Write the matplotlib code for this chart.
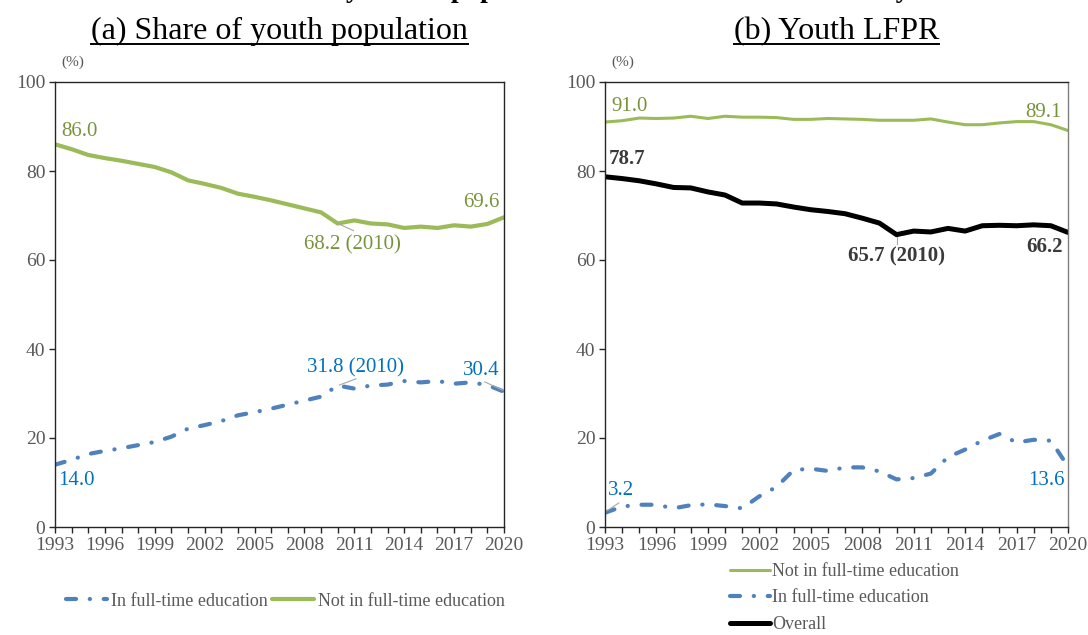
import matplotlib
matplotlib.use("Agg")
import matplotlib.pyplot as plt
from matplotlib.lines import Line2D

plt.rcParams["font.family"] = ["Liberation Serif", "DejaVu Serif"]

# ---------------- data ----------------
years = list(range(1993, 2021))
year_labels = [str(y) if (y - 1993) % 3 == 0 else "" for y in years]

share_ft = [14.0, 15.1, 16.4, 17.1, 17.7, 18.4, 19.1, 20.3, 22.1, 22.9,
            23.8, 25.1, 25.8, 26.6, 27.5, 28.4, 29.3, 31.8, 31.1, 31.8,
            32.0, 32.8, 32.5, 32.8, 32.2, 32.5, 31.9, 30.4]
share_not_ft = [86.0, 84.9, 83.6, 82.9, 82.3, 81.6, 80.9, 79.7, 77.9, 77.1,
                76.2, 74.9, 74.2, 73.4, 72.5, 71.6, 70.7, 68.2, 68.9, 68.2,
                68.0, 67.2, 67.5, 67.2, 67.8, 67.5, 68.1, 69.6]

lfpr_not_ft = [91.0, 91.3, 91.9, 91.8, 91.9, 92.3, 91.8, 92.3, 92.1, 92.1,
               92.0, 91.6, 91.6, 91.8, 91.7, 91.6, 91.4, 91.4, 91.4, 91.7,
               91.0, 90.4, 90.4, 90.8, 91.1, 91.1, 90.4, 89.1]
lfpr_ft = [3.2, 4.6, 5.0, 5.0, 4.2, 4.9, 5.1, 4.7, 4.2, 6.9,
           9.0, 12.8, 13.1, 12.6, 13.4, 13.4, 12.5, 10.7, 11.0, 12.0,
           15.7, 17.4, 19.4, 20.9, 19.0, 19.6, 19.4, 13.6]
lfpr_overall = [78.7, 78.3, 77.8, 77.1, 76.3, 76.2, 75.3, 74.6, 72.8, 72.8,
                72.6, 71.9, 71.3, 70.9, 70.4, 69.4, 68.3, 65.7, 66.5, 66.3,
                67.1, 66.5, 67.7, 67.8, 67.7, 67.9, 67.7, 66.2]

# ---------------- styles ----------------
GREEN = "#9BBB59"
GREEN_TXT = "#77933C"
BLUE = "#4F81BD"
BLUE_TXT = "#0070C0"
DARK_TXT = "#3A3A3A"
TICK_TXT = "#595959"
LEADER = "#A6A6A6"
DASHDOT = (0, (2.4, 3.3, 0.05, 3.3))

W, H = 1088, 635
fig = plt.figure(figsize=(W / 100, H / 100), dpi=100)


def px_axes(x0, x1, y0, y1):
    return fig.add_axes([x0 / W, 1 - y1 / H, (x1 - x0) / W, (y1 - y0) / H])


def style_axes(ax):
    ax.set_xlim(1993, 2020)
    ax.set_ylim(0, 100)
    ax.set_yticks([0, 20, 40, 60, 80, 100])
    ax.set_xticks(years)
    ax.set_xticklabels(year_labels)
    ax.tick_params(axis="both", direction="out", length=4, width=1,
                   labelsize=14, labelcolor=TICK_TXT, color="#262626", pad=3)
    for s in ax.spines.values():
        s.set_color("#262626")
        s.set_linewidth(1.0)


def blue_line(ax, x, y, **kw):
    return ax.plot(x, y, color=BLUE, lw=3, linestyle=DASHDOT,
                   dash_capstyle="round", solid_capstyle="round", **kw)[0]


# ---------------- (a) share of youth population ----------------
ax1 = px_axes(55, 504, 82, 527)
style_axes(ax1)
h_ft = blue_line(ax1, years, share_ft, label="In full-time education")
h_nft = ax1.plot(years, share_not_ft, color=GREEN, lw=3,
                 solid_capstyle="round", label="Not in full-time education")[0]

ax1.text(1993.35, 88.9, f"{share_not_ft[0]:.1f}", color=GREEN_TXT,
         fontsize=15, ha="left", va="center")
ax1.text(2019.75, 73.0, f"{share_not_ft[-1]:.1f}", color=GREEN_TXT,
         fontsize=15, ha="right", va="center")
ax1.text(2010.9, 63.4, f"{share_not_ft[17]:.1f} (2010)", color=GREEN_TXT,
         fontsize=15, ha="center", va="center")
ax1.plot([2010, 2010.95], [share_not_ft[17], 66.6], color=LEADER, lw=0.8)

ax1.text(1993.2, 10.4, f"{share_ft[0]:.1f}", color=BLUE_TXT,
         fontsize=15, ha="left", va="center")
ax1.text(2011.1, 35.7, f"{share_ft[17]:.1f} (2010)", color=BLUE_TXT,
         fontsize=15, ha="center", va="center")
ax1.plot([2010.1, 2011.1], [31.9, 33.3], color=LEADER, lw=0.8)
ax1.text(2019.75, 35.1, f"{share_ft[-1]:.1f}", color=BLUE_TXT,
         fontsize=15, ha="right", va="center")
ax1.plot([2018.85, 2020], [32.6, 30.6], color=LEADER, lw=0.8)

ax1.text(1993.4, 103.0, "(%)", fontsize=11, color=TICK_TXT,
         ha="left", va="bottom", clip_on=False)

leg1 = fig.legend(handles=[h_ft, h_nft], loc="center",
                  bbox_to_anchor=(285 / W, 1 - 601 / H), ncol=2,
                  frameon=False, fontsize=13, handlelength=2.3,
                  handletextpad=0.2, columnspacing=0.28, labelcolor=TICK_TXT)

# ---------------- (b) youth LFPR ----------------
ax2 = px_axes(605, 1068, 82, 527)
style_axes(ax2)
ax2.spines["right"].set_color("#7F7F7F")
g_nft = ax2.plot(years, lfpr_not_ft, color=GREEN, lw=2.2,
                 solid_capstyle="round", label="Not in full-time education")[0]
g_ft = blue_line(ax2, years, lfpr_ft, label="In full-time education")
g_all = ax2.plot(years, lfpr_overall, color="black", lw=3.6,
                 solid_capstyle="round", label="Overall")[0]

ax2.text(1993.4, 94.5, f"{lfpr_not_ft[0]:.1f}", color=GREEN_TXT,
         fontsize=15, ha="left", va="center")
ax2.text(2019.65, 93.2, f"{lfpr_not_ft[-1]:.1f}", color=GREEN_TXT,
         fontsize=15, ha="right", va="center")

ax2.text(1993.2, 82.7, f"{lfpr_overall[0]:.1f}", color=DARK_TXT,
         fontsize=15, fontweight="bold", ha="left", va="center")
ax2.text(2010.0, 60.9, f"{lfpr_overall[17]:.1f} (2010)", color=DARK_TXT,
         fontsize=15, fontweight="bold", ha="center", va="center")
ax2.plot([2010, 2010], [65.2, 63.6], color=LEADER, lw=0.8)
ax2.text(2019.7, 62.9, f"{lfpr_overall[-1]:.1f}", color=DARK_TXT,
         fontsize=15, fontweight="bold", ha="right", va="center")

ax2.text(1993.2, 8.1, f"{lfpr_ft[0]:.1f}", color=BLUE_TXT,
         fontsize=15, ha="left", va="center")
ax2.plot([1993.1, 1993.8], [3.6, 5.4], color=LEADER, lw=0.8)
ax2.text(2019.8, 10.4, f"{lfpr_ft[-1]:.1f}", color=BLUE_TXT,
         fontsize=15, ha="right", va="center")

ax2.text(1993.4, 103.0, "(%)", fontsize=11, color=TICK_TXT,
         ha="left", va="bottom", clip_on=False)

leg2 = fig.legend(handles=[g_nft, g_ft, g_all], loc="center left",
                  bbox_to_anchor=(730 / W, 1 - 598 / H), ncol=1,
                  frameon=False, fontsize=13, handlelength=2.2,
                  handletextpad=0.15, labelspacing=0.52, labelcolor=TICK_TXT,
                  borderaxespad=0, borderpad=0)

# ---------------- headings ----------------
fig.text(0.5, 1 + 3 / H,
         "Chart 1 : Share of youth in population and labour force status of youth",
         fontsize=20, fontweight="bold", ha="center", va="baseline")

subtitles = []
for ax, label in [(ax1, "(a) Share of youth population"), (ax2, "(b) Youth LFPR")]:
    bb = ax.get_position()
    t = fig.text((bb.x0 + bb.x1) / 2, 1 - 39 / H, label, fontsize=23,
                 ha="center", va="baseline")
    subtitles.append(t)

fig.canvas.draw()
renderer = fig.canvas.get_renderer()
for t in subtitles:
    ext = t.get_window_extent(renderer)
    y = 1 - 44 / H
    fig.add_artist(Line2D([ext.x0 / W, ext.x1 / W], [y, y],
                          transform=fig.transFigure, color="black", lw=1.4))

fig.savefig("out.png", dpi=100)
